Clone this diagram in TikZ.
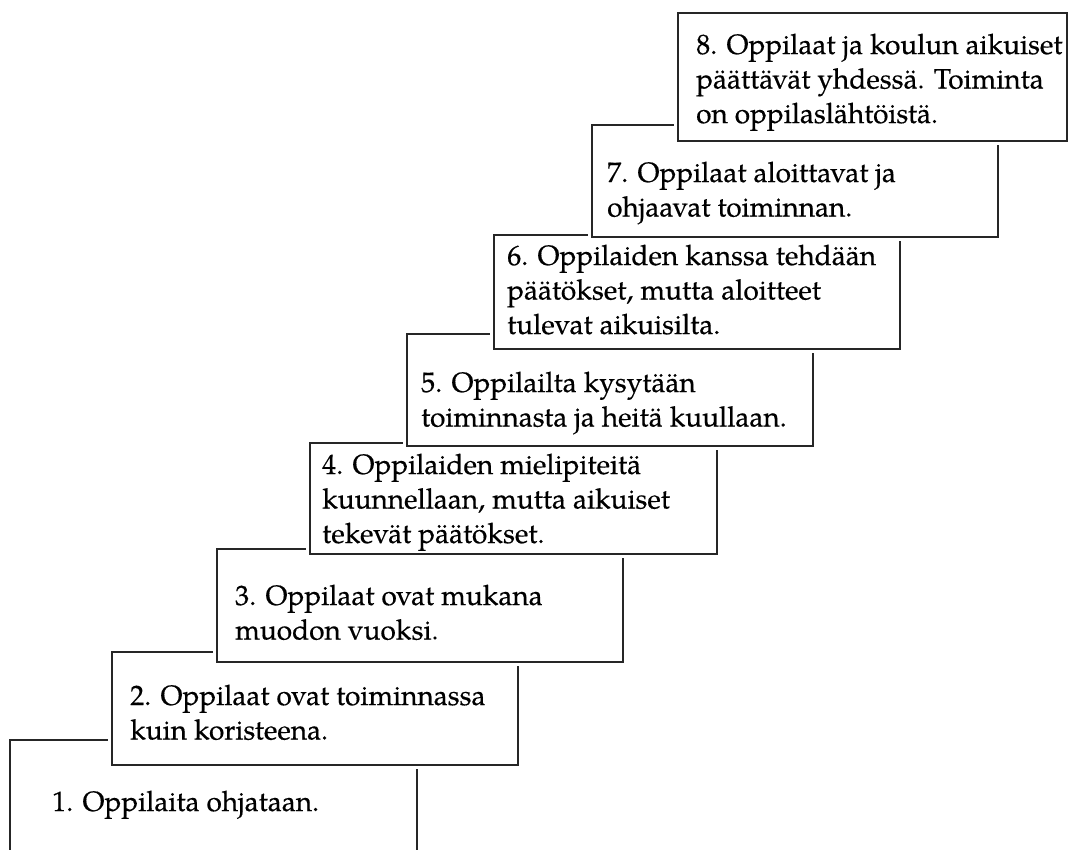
\documentclass[tikz,border=0pt]{standalone}
\usepackage{fontspec}
\setmainfont{texgyrepagella-regular.otf}[FakeBold=0.4]
\begin{document}
\begin{tikzpicture}[x=1pt,y=-1pt,
  stepbox/.style={draw=black!85, line width=1.4pt, fill=white, inner sep=0pt, outer sep=0pt,
    anchor=north west, preaction={draw=white, line width=8pt}},
  steptext/.style={anchor=base west, inner sep=0pt, font=\fontsize{28}{34.5}\selectfont}]
\useasboundingbox[fill=white] (0,0) rectangle (1068,850);
\begin{scope}
\clip (0,0) rectangle (1068,850);
\node[stepbox, minimum width=407pt, minimum height=130pt] (b1) at (10,740) {};
\node[steptext] (t1) at (52,811) {\begin{tabular}[t]{@{}l@{}}1. Oppilaita ohjataan.\end{tabular}};
\node[stepbox, minimum width=406pt, minimum height=113pt] (b2) at (112,652) {};
\node[steptext] (t2) at (130,705) {\begin{tabular}[t]{@{}l@{}}2. Oppilaat ovat toiminnassa\\kuin koristeena.\end{tabular}};
\node[stepbox, minimum width=406pt, minimum height=113pt] (b3) at (217,549) {};
\node[steptext] (t3) at (235,605) {\begin{tabular}[t]{@{}l@{}}3. Oppilaat ovat mukana\\muodon vuoksi.\end{tabular}};
\node[stepbox, minimum width=407pt, minimum height=111pt] (b4) at (310,443) {};
\node[steptext] (t4) at (322,474) {\begin{tabular}[t]{@{}l@{}}4. Oppilaiden mielipiteitä\\kuunnellaan, mutta aikuiset\\tekevät päätökset.\end{tabular}};
\node[stepbox, minimum width=406pt, minimum height=112pt] (b5) at (407,334) {};
\node[steptext] (t5) at (421,392) {\begin{tabular}[t]{@{}l@{}}5. Oppilailta kysytään\\toiminnasta ja heitä kuullaan.\end{tabular}};
\node[stepbox, minimum width=406pt, minimum height=114pt] (b6) at (494,235) {};
\node[steptext] (t6) at (507,265) {\begin{tabular}[t]{@{}l@{}}6. Oppilaiden kanssa tehdään\\päätökset, mutta aloitteet\\tulevat aikuisilta.\end{tabular}};
\node[stepbox, minimum width=406pt, minimum height=112pt] (b7) at (592,125) {};
\node[steptext] (t7) at (607,182) {\begin{tabular}[t]{@{}l@{}}7. Oppilaat aloittavat ja\\ohjaavat toiminnan.\end{tabular}};
\node[stepbox, minimum width=389pt, minimum height=128pt] (b8) at (678,13) {};
\node[steptext] (t8) at (696,54) {\begin{tabular}[t]{@{}l@{}}8. Oppilaat ja koulun aikuiset\\päättävät yhdessä. Toiminta\\on oppilaslähtöistä.\end{tabular}};
\end{scope}
\end{tikzpicture}
\end{document}
